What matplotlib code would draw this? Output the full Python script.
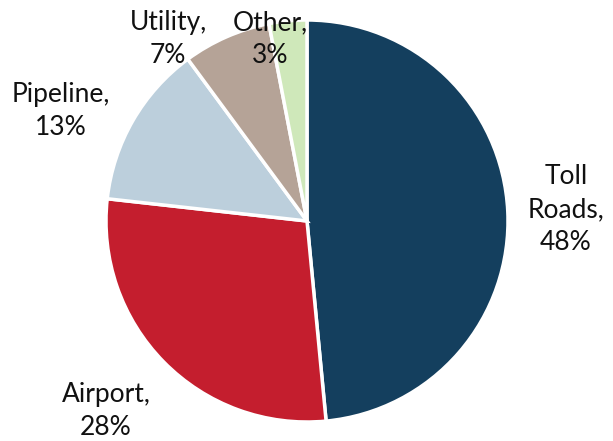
import matplotlib.pyplot as plt

# sector split of the portfolio
sectors = ['Toll\nRoads', 'Airport', 'Pipeline', 'Utility', 'Other']
shares = [48, 28, 13, 7, 3]
colors = ['#143F5E', '#C41E2E', '#BCCFDC', '#B5A397', '#CFE8BA']

# where each label sits (figure pixels, origin bottom-left)
label_xy = [(566, 231), (106, 30), (61, 330), (168, 402), (270, 402)]

plt.rcParams['font.family'] = ['Lato', 'DejaVu Sans']

fig = plt.figure(figsize=(6.13, 4.41), dpi=100)
ax = fig.add_axes([0, 0, 1, 1])
ax.set_xlim(0, 613)
ax.set_ylim(0, 441)
ax.set_aspect('equal')
ax.axis('off')

ax.pie(shares, colors=colors, startangle=90, counterclock=False,
       center=(307, 220), radius=201,
       wedgeprops=dict(edgecolor='white', linewidth=2.5))

for name, val, (x, y) in zip(sectors, shares, label_xy):
    ax.text(x, y, f'{name},\n{val}%', ha='center', va='center',
            fontsize=19, color='#111111', linespacing=1.4)

ax.set_xlim(0, 613)
ax.set_ylim(0, 441)
fig.savefig('out.png', dpi=100)
